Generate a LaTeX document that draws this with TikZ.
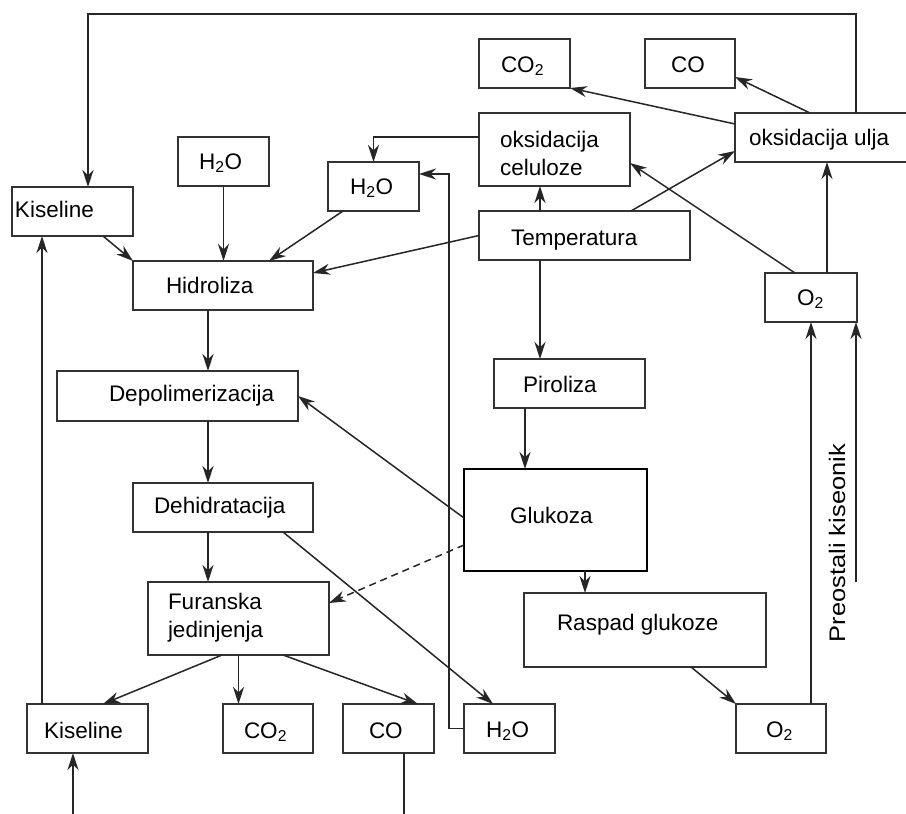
\documentclass[tikz,border=0pt]{standalone}
\usepackage{fontspec}
\setmainfont{Liberation Sans}
\usetikzlibrary{arrows.meta,calc}
\begin{document}
\begin{tikzpicture}[x=1pt,y=-1pt,
  box/.style={draw=black!80, line width=1.5pt, inner sep=0pt, outer sep=0pt},
  thickbox/.style={draw=black, line width=2.6pt, inner sep=0pt, outer sep=0pt},
  lbl/.style={anchor=base west, inner sep=0pt, outer sep=0pt, font=\fontsize{22.5}{28}\selectfont, text=black},
  ln/.style={line width=1.5pt, draw=black!85},
  arr/.style={line width=1.5pt, draw=black!85, -{Stealth[length=17pt,width=11pt,inset=5.5pt]}},
  dsh/.style={dash pattern=on 7pt off 5pt}
]
\fill[white] (0,0) rectangle (906,814);
\useasboundingbox (0,0) rectangle (906,814);

% boxes
\node[box, minimum width=121, minimum height=49] (kisA) at (72.5,211.5) {};
\node[box, minimum width=91, minimum height=49] (h2oA) at (223.5,161.5) {};
\node[box, minimum width=91, minimum height=49] (h2oB) at (373.5,186.5) {};
\node[box, minimum width=180, minimum height=49] (hid) at (223,285.5) {};
\node[box, minimum width=91, minimum height=49] (co2A) at (524.5,63.5) {};
\node[box, minimum width=90, minimum height=49] (coA) at (690,63.5) {};
\node[box, minimum width=151, minimum height=73] (oksc) at (554.5,149.5) {};
\node[box, minimum width=173, minimum height=49] (oksu) at (821.5,137.5) {};
\node[box, minimum width=211, minimum height=49] (temp) at (584.5,235.5) {};
\node[box, minimum width=92, minimum height=49] (o2A) at (811,297.5) {};
\node[box, minimum width=241, minimum height=50] (depol) at (177.5,396) {};
\node[box, minimum width=180, minimum height=49] (dehid) at (223,507.5) {};
\node[box, minimum width=151, minimum height=49] (pir) at (569.5,383.5) {};
\node[thickbox, minimum width=183, minimum height=102] (glu) at (555.5,520) {};
\node[box, minimum width=181, minimum height=73] (fur) at (238.5,618.5) {};
\node[box, minimum width=242, minimum height=74] (rasp) at (645,630) {};
\node[box, minimum width=121, minimum height=49] (kisB) at (87.5,728.5) {};
\node[box, minimum width=90, minimum height=49] (co2B) at (268,728.5) {};
\node[box, minimum width=91, minimum height=49] (coB) at (388.5,728.5) {};
\node[box, minimum width=91, minimum height=49] (h2oC) at (509.5,728.5) {};
\node[box, minimum width=90, minimum height=49] (o2B) at (781,728.5) {};

% texts
\node[lbl] (tkisA) at (15,217) {Kiseline};
\node[lbl] (th2oA) at (199,169) {H\textsubscript{2}O};
\node[lbl] (th2oB) at (350,194) {H\textsubscript{2}O};
\node[lbl] (thid) at (166,293) {Hidroliza};
\node[lbl] (tco2A) at (501,72) {CO\textsubscript{2}};
\node[lbl] (tcoA) at (671,72) {CO};
\node[lbl] (toksc) at (500,147) {\begin{tabular}[t]{@{}l@{}}oksidacija\\celuloze\end{tabular}};
\node[lbl] (toksu) at (749,145) {oksidacija ulja};
\node[lbl] (ttemp) at (511,245) {Temperatura};
\node[lbl] (to2A) at (797,305) {O\textsubscript{2}};
\node[lbl] (tdepol) at (109,401) {Depolimerizacija};
\node[lbl] (tdehid) at (154,513) {Dehidratacija};
\node[lbl] (tpir) at (523,392) {Piroliza};
\node[lbl] (tglu) at (510,523) {Glukoza};
\node[lbl] (tfur) at (168,609) {\begin{tabular}[t]{@{}l@{}}Furanska\\jedinjenja\end{tabular}};
\node[lbl] (trasp) at (557,630) {Raspad glukoze};
\node[lbl] (tkisB) at (44,738) {Kiseline};
\node[lbl] (tco2B) at (244,738) {CO\textsubscript{2}};
\node[lbl] (tcoB) at (369,738) {CO};
\node[lbl] (th2oC) at (486,737) {H\textsubscript{2}O};
\node[lbl] (to2B) at (766,737) {O\textsubscript{2}};
\node[lbl, rotate=90] (tpk) at (845,642) {\scalebox{1.13}[1]{Preostali kiseonik}};

% connectors
\coordinate (tl) at (88,14);
\coordinate (tr) at (856,14);
\draw[arr] (oksu.north -| tr) -- (tr) -- (tl) -- (tl |- kisA.north);

\draw[arr] ([yshift=12.5pt]oksc.west) -| (h2oB.north);

\coordinate (vx) at (449,0);
\coordinate (h2oBin) at ([yshift=12.5pt]h2oB.east);
\draw[arr] (h2oC.west) -- (h2oC.west -| vx) -- (vx |- h2oBin) -- (h2oBin);

\draw[arr] (temp.west) -- ([yshift=12.5pt]hid.east);
\coordinate (cx) at (540,0);
\draw[arr] (temp.north -| cx) -- (oksc.south -| cx);
\draw[arr] ([xshift=46.5pt]temp.north) -- ([yshift=-13.5pt]oksu.west);
\draw[arr] ([xshift=-16pt]o2A.north) -- ([yshift=-13.5pt]oksc.east);
\draw[arr] ([xshift=16pt]o2A.north) -- ([xshift=16pt]o2A.north |- oksu.south);
\draw[arr] ([yshift=13.5pt]oksu.west) -- (co2A.south east);
\draw[arr] ([xshift=-11.5pt]oksu.north) -- ([yshift=-13.5pt]coA.east);

\draw[arr] ([xshift=30.5pt]kisA.south) -- (hid.north west);
\draw[arr] (h2oA.south) -- (h2oA.south |- hid.north);
\draw[arr] ([xshift=-30.5pt]h2oB.south) -- ([xshift=46pt]hid.north);

\coordinate (kx) at (42,0);
\draw[arr] (kisB.north -| kx) -- (kisA.south -| kx);
\coordinate (kin) at (73,814);
\draw[arr] (kin) -- (kin |- kisB.south);
\coordinate (cout) at (404,814);
\draw[ln] (cout |- coB.south) -- (cout);

\draw[arr] ([xshift=-16.5pt]fur.south) -- ([xshift=15.5pt]kisB.north);
\draw[arr] (fur.south) -- (fur.south |- co2B.north);
\draw[arr] ([xshift=44.5pt]fur.south) -- ([xshift=29.5pt]coB.north);

\coordinate (ax) at (208,0);
\draw[arr] (hid.south -| ax) -- (depol.north -| ax);
\draw[arr] (depol.south -| ax) -- (dehid.north -| ax);
\draw[arr] (dehid.south -| ax) -- (fur.north -| ax);
\draw[arr] ([xshift=60pt]dehid.south) -- ([xshift=-16.5pt]h2oC.north);

\draw[arr] ([yshift=2pt]glu.west) -- (depol.east);
\draw[arr, dsh] ([yshift=-25pt]glu.west) -- ([yshift=15.5pt]fur.east);

\draw[arr] (temp.south -| cx) -- (pir.north -| cx);
\coordinate (px) at (525,0);
\draw[arr] (pir.south -| px) -- (glu.north -| px);
\coordinate (gx) at (585,0);
\draw[arr] (glu.south -| gx) -- (rasp.north -| gx);
\draw[arr] ([xshift=46pt]rasp.south) -- (o2B.north west);
\draw[arr] (o2B.north -| o2A.south) -- (o2A.south);
\coordinate (pk) at (856,582);
\draw[arr] (pk) -- (pk |- o2A.south);
\end{tikzpicture}
\end{document}
